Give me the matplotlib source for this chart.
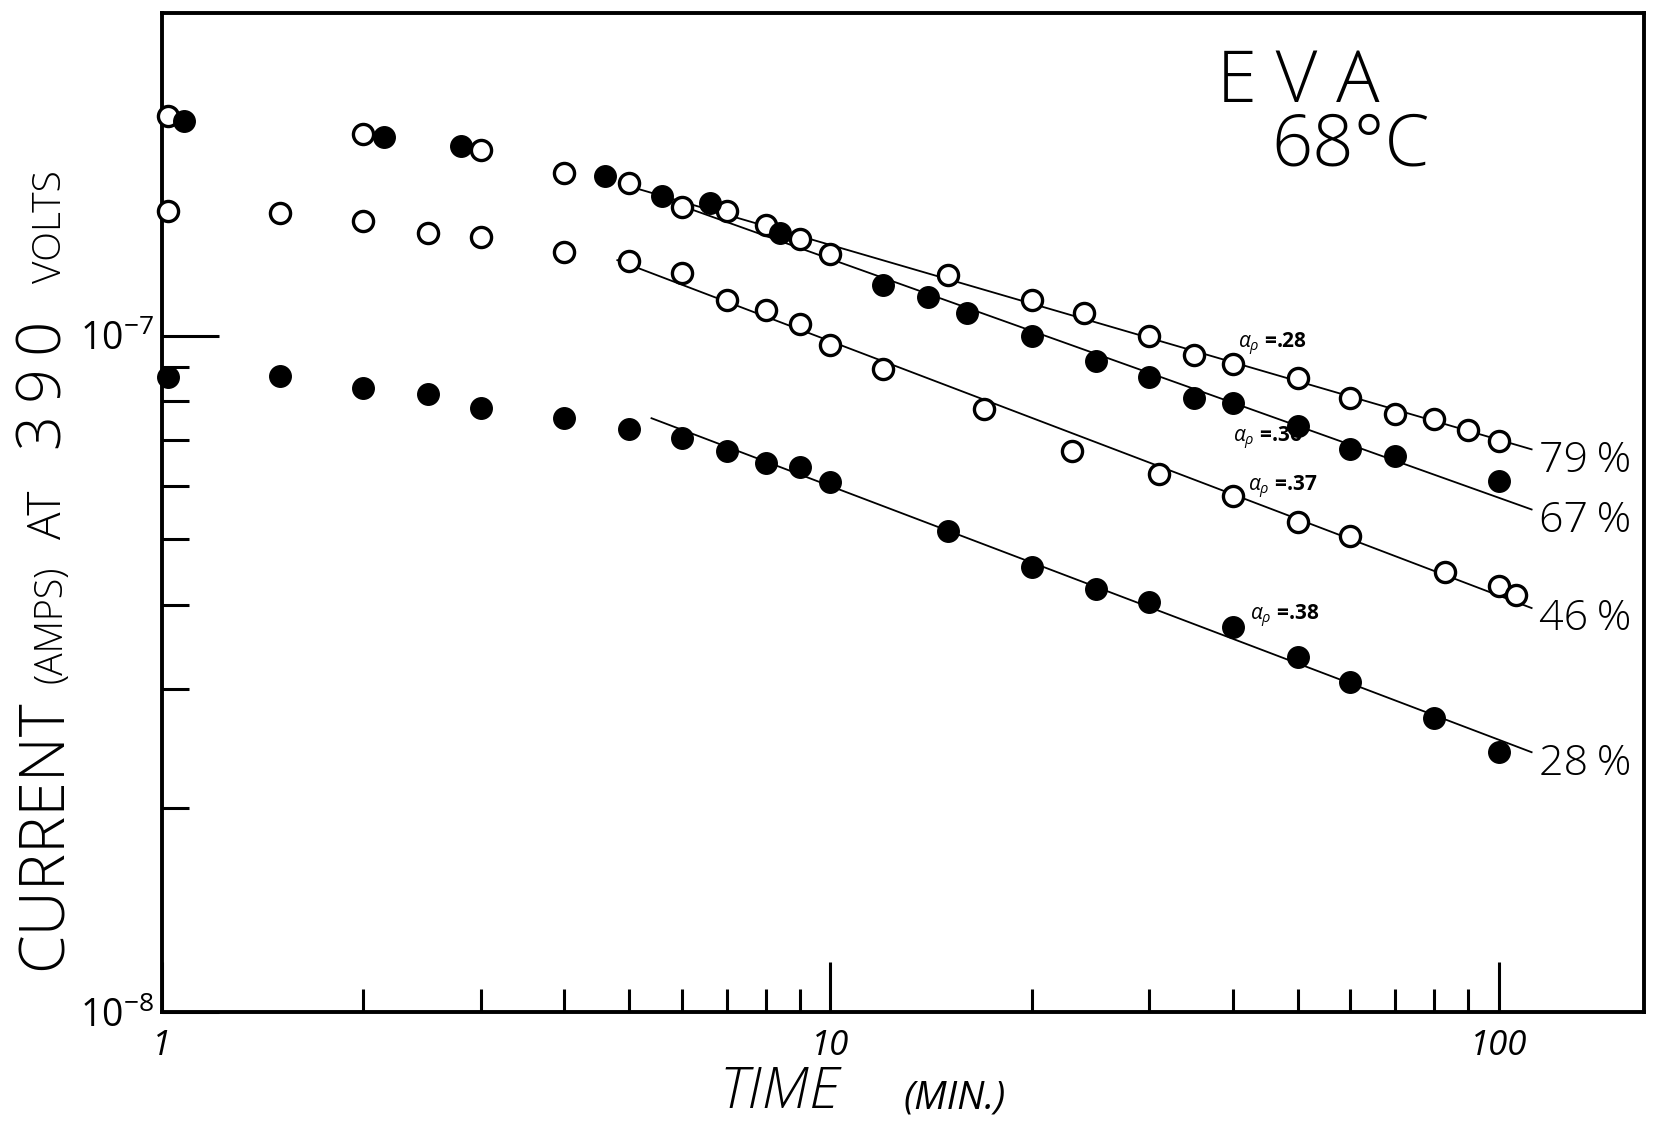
import numpy as np
import matplotlib.pyplot as plt
from matplotlib.ticker import FixedLocator, NullFormatter

plt.rcParams['font.family'] = ['Open Sans', 'DejaVu Sans']
plt.rcParams['mathtext.fontset'] = 'custom'
plt.rcParams['mathtext.rm'] = 'Open Sans'
plt.rcParams['mathtext.it'] = 'Open Sans:italic'
plt.rcParams['mathtext.bf'] = 'Open Sans:bold'
plt.rcParams['mathtext.default'] = 'it'

# Datos (tiempo en min, corriente en A)
t79 = [1.02, 2, 3, 4, 5, 6, 7, 8, 9, 10, 15, 20, 24, 30, 35, 40, 50, 60, 70, 80, 90, 100]
i79 = [2.11e-7, 1.99e-7, 1.88e-7, 1.74e-7, 1.68e-7, 1.55e-7, 1.53e-7, 1.46e-7, 1.39e-7, 1.32e-7,
       1.23e-7, 1.13e-7, 1.08e-7, 1.00e-7, 9.37e-8, 9.08e-8, 8.66e-8, 8.09e-8, 7.66e-8, 7.53e-8,
       7.26e-8, 6.98e-8]

t67 = [1.08, 2.15, 2.8, 4.6, 5.6, 6.6, 8.4, 12, 14, 16, 20, 25, 30, 35, 40, 50, 60, 70, 100]
i67 = [2.08e-7, 1.97e-7, 1.91e-7, 1.72e-7, 1.61e-7, 1.57e-7, 1.42e-7, 1.19e-7, 1.14e-7, 1.08e-7,
       1.00e-7, 9.17e-8, 8.69e-8, 8.09e-8, 7.94e-8, 7.36e-8, 6.81e-8, 6.64e-8, 6.09e-8]

t46 = [1.02, 1.5, 2, 2.5, 3, 4, 5, 6, 7, 8, 9, 10, 12, 17, 23, 31, 40, 50, 60, 83, 100, 106]
i46 = [1.53e-7, 1.52e-7, 1.48e-7, 1.42e-7, 1.40e-7, 1.33e-7, 1.29e-7, 1.24e-7, 1.13e-7, 1.09e-7,
       1.04e-7, 9.68e-8, 8.94e-8, 7.78e-8, 6.76e-8, 6.24e-8, 5.79e-8, 5.31e-8, 5.05e-8, 4.47e-8,
       4.26e-8, 4.14e-8]

t28 = [1.02, 1.5, 2, 2.5, 3, 4, 5, 6, 7, 8, 9, 10, 15, 20, 25, 30, 40, 50, 60, 80, 100]
i28 = [8.69e-8, 8.72e-8, 8.38e-8, 8.20e-8, 7.83e-8, 7.55e-8, 7.28e-8, 7.05e-8, 6.76e-8, 6.49e-8,
       6.40e-8, 6.07e-8, 5.14e-8, 4.55e-8, 4.22e-8, 4.04e-8, 3.71e-8, 3.35e-8, 3.08e-8, 2.72e-8,
       2.42e-8]

series_t = [t79, t67, t46, t28]
series_i = [i79, i67, i46, i28]
filled = [False, True, False, True]
labels = ['79\u2009%', '67\u2009%', '46\u2009%', '28\u2009%']
fit_from = [5, 5.5, 4.8, 5.4]   # inicio de la recta ajustada
fit_to = 112                    # fin de la recta
label_x = 115

alpha_txt = ['.28', '.36', '.37', '.38']
alpha_x = [40.7, 40.0, 42.2, 42.5]
alpha_y = [9.7e-8, 7.06e-8, 5.96e-8, 3.84e-8]

fig = plt.figure(figsize=(16.58, 11.24), dpi=100)
ax = fig.add_axes([0.0977, 0.0996, 0.8939, 0.8888])
ax.set_xscale('log')
ax.set_yscale('log')
ax.set_xlim(1, 165)
ax.set_ylim(1e-8, 3e-7)

for t, cur, fill, lab, x0 in zip(series_t, series_i, filled, labels, fit_from):
    t = np.array(t)
    cur = np.array(cur)
    # Recta en escala log-log ajustada a los puntos tardios
    m = t >= x0
    p = np.polyfit(np.log10(t[m]), np.log10(cur[m]), 1)
    xs = np.array([x0, fit_to])
    ax.plot(xs, 10 ** np.polyval(p, np.log10(xs)), color='black', lw=1.3, zorder=2)
    if fill:
        ax.plot(t, cur, 'o', ms=15.5, color='black', clip_on=False, zorder=3)
    else:
        ax.plot(t, cur, 'o', ms=14.5, mfc='white', mec='black', mew=2.4, clip_on=False, zorder=3)
    ax.annotate(lab, (label_x, 10 ** np.polyval(p, np.log10(fit_to))), xytext=(0, -8),
                textcoords='offset points', fontsize=31, fontweight='light',
                ha='left', va='center')

for x, y, a in zip(alpha_x, alpha_y, alpha_txt):
    ax.text(x, y, r'$\alpha_\rho$ =' + a, fontsize=15, fontweight='bold', ha='left', va='center')

ax.text(0.767, 0.930, 'E V A', transform=ax.transAxes, fontsize=52, fontweight='light',
        ha='center', va='center')
ax.text(0.802, 0.866, '68°C', transform=ax.transAxes, fontsize=52, fontweight='light',
        ha='center', va='center')

# Ejes
ax.xaxis.set_major_locator(FixedLocator([1, 10, 100]))
ax.xaxis.set_minor_locator(FixedLocator([2, 3, 4, 5, 6, 7, 8, 9, 20, 30, 40, 50, 60, 70, 80, 90]))
ax.xaxis.set_minor_formatter(NullFormatter())
ax.set_xticklabels(['1', '10', '100'], fontstyle='italic', fontsize=25)
ax.yaxis.set_major_locator(FixedLocator([1e-8, 1e-7]))
ax.yaxis.set_minor_locator(FixedLocator([2e-8, 3e-8, 4e-8, 5e-8, 6e-8, 7e-8, 8e-8, 9e-8]))
ax.yaxis.set_minor_formatter(NullFormatter())
ax.set_yticklabels([r'$\mathit{10^{-8}}$', r'$\mathit{10^{-7}}$'], fontsize=27)

ax.tick_params(axis='x', which='major', direction='in', length=36, width=2.2, pad=12)
ax.tick_params(axis='x', which='minor', direction='in', length=16.5, width=2.2)
ax.tick_params(axis='y', which='major', direction='in', length=41, width=2.2, pad=6)
ax.tick_params(axis='y', which='minor', direction='in', length=19.5, width=2.2)
for s in ax.spines.values():
    s.set_linewidth(2.8)

# Titulos de ejes con tamanos mixtos
ylab = [('CURRENT', 0.257, 45), ('(AMPS)', 0.445, 27), ('AT', 0.542, 33),
        ('3\u20099\u20090', 0.657, 44), ('VOLTS', 0.798, 28)]
for s, y, fs in ylab:
    fig.text(0.037, y, s, rotation=90, rotation_mode='anchor', ha='center', va='baseline',
             fontsize=fs, fontweight='light')
fig.text(0.470, 0.014, 'TIME', ha='center', va='baseline', fontsize=42, fontweight='light',
         fontstyle='italic')
fig.text(0.576, 0.014, '(MIN.)', ha='center', va='baseline', fontsize=28, fontstyle='italic')

fig.savefig('out.png', dpi=100)
